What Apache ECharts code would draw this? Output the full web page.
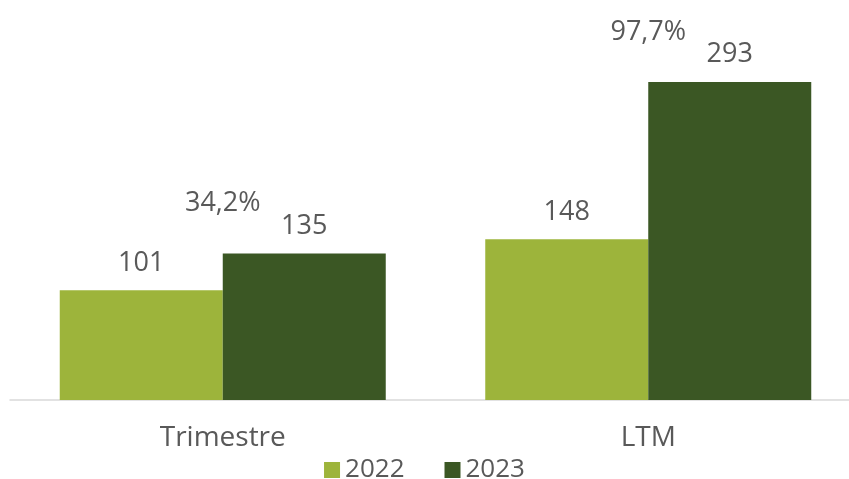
<!DOCTYPE html>
<html>
<head>
<meta charset="utf-8">
<script src="https://cdn.jsdelivr.net/npm/echarts@6/dist/echarts.min.js"></script>
<style>html,body{margin:0;padding:0;background:#fff;}#c{width:849px;height:479px;}</style>
</head>
<body>
<div id="c"></div>
<script>
const categories = ['Trimestre', 'LTM'];
const values2022 = [101, 148];
const values2023 = [135, 293];
const growthLabels = ['34,2%', '97,7%'];
const seriesNames = ['2022', '2023'];

const FONT = '"Open Sans", sans-serif';
const TXT = '#595959';
const chart = echarts.init(document.getElementById('c'));
chart.setOption({
  animation: false,
  textStyle: { fontFamily: FONT },
  grid: { left: 10, width: 851, top: 20, height: 380, containLabel: false, outerBoundsMode: 'none' },
  legend: {
    data: seriesNames,
    top: 452, left: 'center',
    icon: 'rect', itemWidth: 16, itemHeight: 16, itemGap: 40,
    textStyle: { fontFamily: FONT, fontSize: 26, color: TXT }
  },
  xAxis: {
    type: 'category', data: categories,
    axisLine: { lineStyle: { color: '#d9d9d9', width: 1.5 } },
    axisTick: { show: false },
    axisLabel: { fontFamily: FONT, fontSize: 28, color: TXT, margin: 24 }
  },
  yAxis: { type: 'value', min: 0, max: 350, show: false, splitLine: { show: false } },
  series: [
    {
      name: seriesNames[0], type: 'bar', data: values2022, barWidth: 163, barGap: '0%',
      itemStyle: { color: '#9db43b' },
      label: { show: true, position: 'top', distance: 14, fontFamily: FONT, fontSize: 27, color: TXT }
    },
    {
      name: seriesNames[1], type: 'bar', data: values2023, barWidth: 163,
      itemStyle: { color: '#3b5724' },
      label: { show: true, position: 'top', distance: 14, fontFamily: FONT, fontSize: 27, color: TXT }
    },
    {
      name: 'growth', type: 'scatter', symbolSize: 1, silent: true,
      itemStyle: { color: 'rgba(0,0,0,0)', opacity: 1 },
      data: values2023.map((v, i) => ({ value: v, label: { formatter: growthLabels[i] } })),
      label: { show: true, position: 'top', distance: 0, offset: [0, -36], fontFamily: FONT, fontSize: 27, color: TXT, opacity: 1 }
    }
  ]
});
</script>
</body>
</html>
